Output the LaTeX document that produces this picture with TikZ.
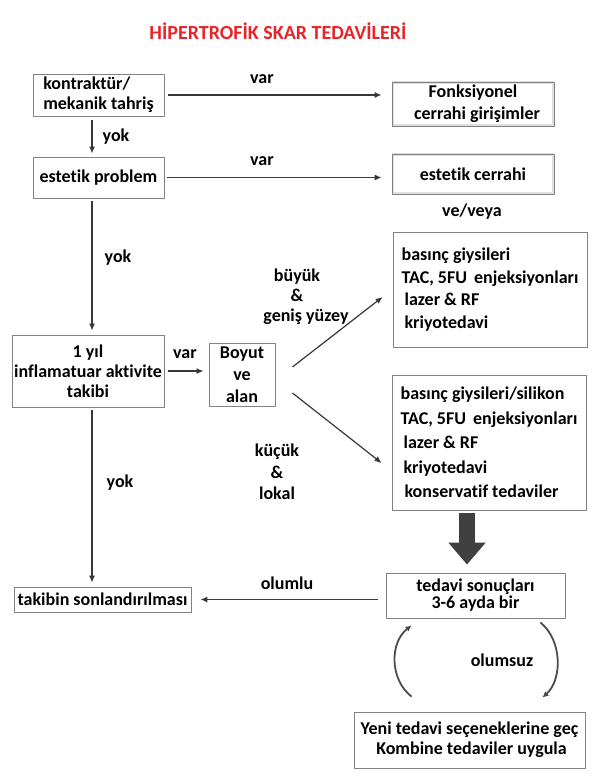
\documentclass[tikz,border=0pt]{standalone}
\usepackage{fontspec}
\setmainfont{Carlito}[Ligatures=NoCommon]
\usepackage{tikz}
\usetikzlibrary{arrows.meta,calc}
\definecolor{titlered}{RGB}{232,36,40}
\definecolor{boxgray}{RGB}{130,130,130}
\definecolor{linegray}{RGB}{55,55,55}
\newcommand{\bodyfont}[1][21]{\fontsize{18}{#1}\selectfont\bfseries}

\begin{document}
\begin{tikzpicture}[x=1pt, y=-1pt, line join=round,
  box/.style={draw=boxgray, line width=0.9pt, fill=white, inner sep=0pt, font=\bodyfont, align=center},
  shadebox/.style={box, path picture={\draw[gray!25, line width=4pt]
    (path picture bounding box.south west) rectangle (path picture bounding box.north east);}},
  link/.style={draw=linegray, line width=1.2pt, -{Latex[length=7pt,width=6pt]}},
  loopline/.style={draw=linegray!90, line width=1.8pt, -{Latex[length=6pt,width=6pt]}},
  lbl/.style={font=\bodyfont, inner sep=0pt, align=center}]
\useasboundingbox (0,0) rectangle (600,778);

% title
\node[font=\fontsize{20}{24}\selectfont\bfseries, text=titlered] (title) at (278,31) {HİPERTROFİK SKAR TEDAVİLERİ};

% left column
\node[box, align=left, minimum width=131, minimum height=42, font={\bodyfont[20]}] (kon) at (98.5,95) {kontraktür/\\mekanik tahriş};
\node[box, minimum width=131, minimum height=41] (estprob) at (98.5,177.5) {estetik problem};
\node[box, minimum width=152, minimum height=72, font={\bodyfont[20]}] (yil) at (88,371) {1 yıl\\inflamatuar aktivite\\takibi};
\node[box, minimum width=66, minimum height=63, font={\bodyfont[22]}] (boyut) at (242,374.5) {Boyut\\ve\\alan};
\node[box, minimum width=177, minimum height=25] (takip) at (102.5,599.5) {takibin sonlandırılması};

% right column
\node[shadebox, minimum width=162, minimum height=44, font={\bodyfont[22]}] (fonk) at (473,104) {Fonksiyonel\\\hspace*{8pt}cerrahi girişimler};
\node[shadebox, minimum width=162, minimum height=40] (estcer) at (473,174) {estetik cerrahi};
\node[box, align=left, minimum width=194, minimum height=115, font={\bodyfont[22.5]}] (tedA) at (490,289.5)
  {basınç giysileri\\TAC, 5FU\, enjeksiyonları\\\hspace*{3pt}lazer \& RF\\\hspace*{3pt}kriyotedavi};
\node[box, align=left, minimum width=194, minimum height=135, font={\bodyfont[24.5]}] (tedB) at (489,442.5)
  {basınç giysileri/silikon\\TAC, 5FU\, enjeksiyonları\\\hspace*{3pt}lazer \& RF\\\hspace*{3pt}kriyotedavi\\\hspace*{4pt}konservatif tedaviler};
\node[box, minimum width=179, minimum height=45, font={\bodyfont[17]}] (sonuc) at (475.5,595.5) {tedavi sonuçları\\3-6 ayda bir};
\node[box, minimum width=231, minimum height=56, font={\bodyfont[20]}] (yeni) at (469.5,740) {Yeni tedavi seçeneklerine geç\\\hspace*{4pt}Kombine tedaviler uygula};

% labels
\node[lbl] (var1) at (262,79) {var};
\node[lbl] (var2) at (262,161) {var};
\node[lbl] (vev) at (472,212) {ve/veya};
\node[lbl] (yok1) at (116,137) {yok};
\node[lbl] (yok2) at (118,258) {yok};
\node[lbl, font={\bodyfont[20]}] (buyuk) at (297,297) {büyük\\\&\\\hspace*{18pt}geniş yüzey};
\node[lbl] (var3) at (185,354) {var};
\node[lbl, font={\bodyfont[21.5]}] (kucuk) at (277,472) {küçük\\\&\\lokal};
\node[lbl] (yok3) at (120,483) {yok};
\node[lbl] (olumlu) at (287,583) {olumlu};
\node[lbl] (olumsuz) at (502,660) {olumsuz};

% connectors
\coordinate (spine) at (92,0);
\draw[link, shorten <=4pt, shorten >=10pt] (kon.east) -- (kon.east -| fonk.west);
\draw[link, shorten <=3pt, shorten >=10pt] (estprob.east) -- (estprob.east -| estcer.west);
\draw[link, shorten <=4pt, shorten >=3pt] (kon.south -| spine) -- (estprob.north -| spine);
\draw[link, shorten <=3pt, shorten >=4pt] (estprob.south -| spine) -- (yil.north -| spine);
\draw[link, shorten <=3pt, shorten >=4pt] (yil.south -| spine) -- (takip.north -| spine);
\draw[link, shorten <=4pt, shorten >=5pt] (yil.east) -- (yil.east -| boyut.west);
\draw[link] ($(boyut.east)+(17,-7.5)$) -- ($(tedA.west)+(-10,7.5)$);
\draw[link] ($(boyut.east)+(17,18.5)$) -- ($(tedB.west)+(-10,20.5)$);
\draw[link, shorten <=8pt, shorten >=9pt] (sonuc.west |- takip.east) -- (takip.east);
% thick arrow between the two boxes
\draw[draw=black!75, line width=16pt, -{Triangle[width=36pt,length=22pt]}]
  ($(tedB.south)+(-22,3)$) -- ($(sonuc.north)+(-8.5,-8)$);
% olumsuz loop
\draw[loopline] ($(yeni.north west)+(58,-15)$) .. controls +(-22,-17) and +(-22,17) .. ($(sonuc.south west)+(26,7)$);
\draw[loopline] ($(sonuc.south east)+(-25,4)$) .. controls +(22,18) and +(20,-18) .. ($(yeni.north east)+(-43,-14)$);
\end{tikzpicture}
\end{document}
